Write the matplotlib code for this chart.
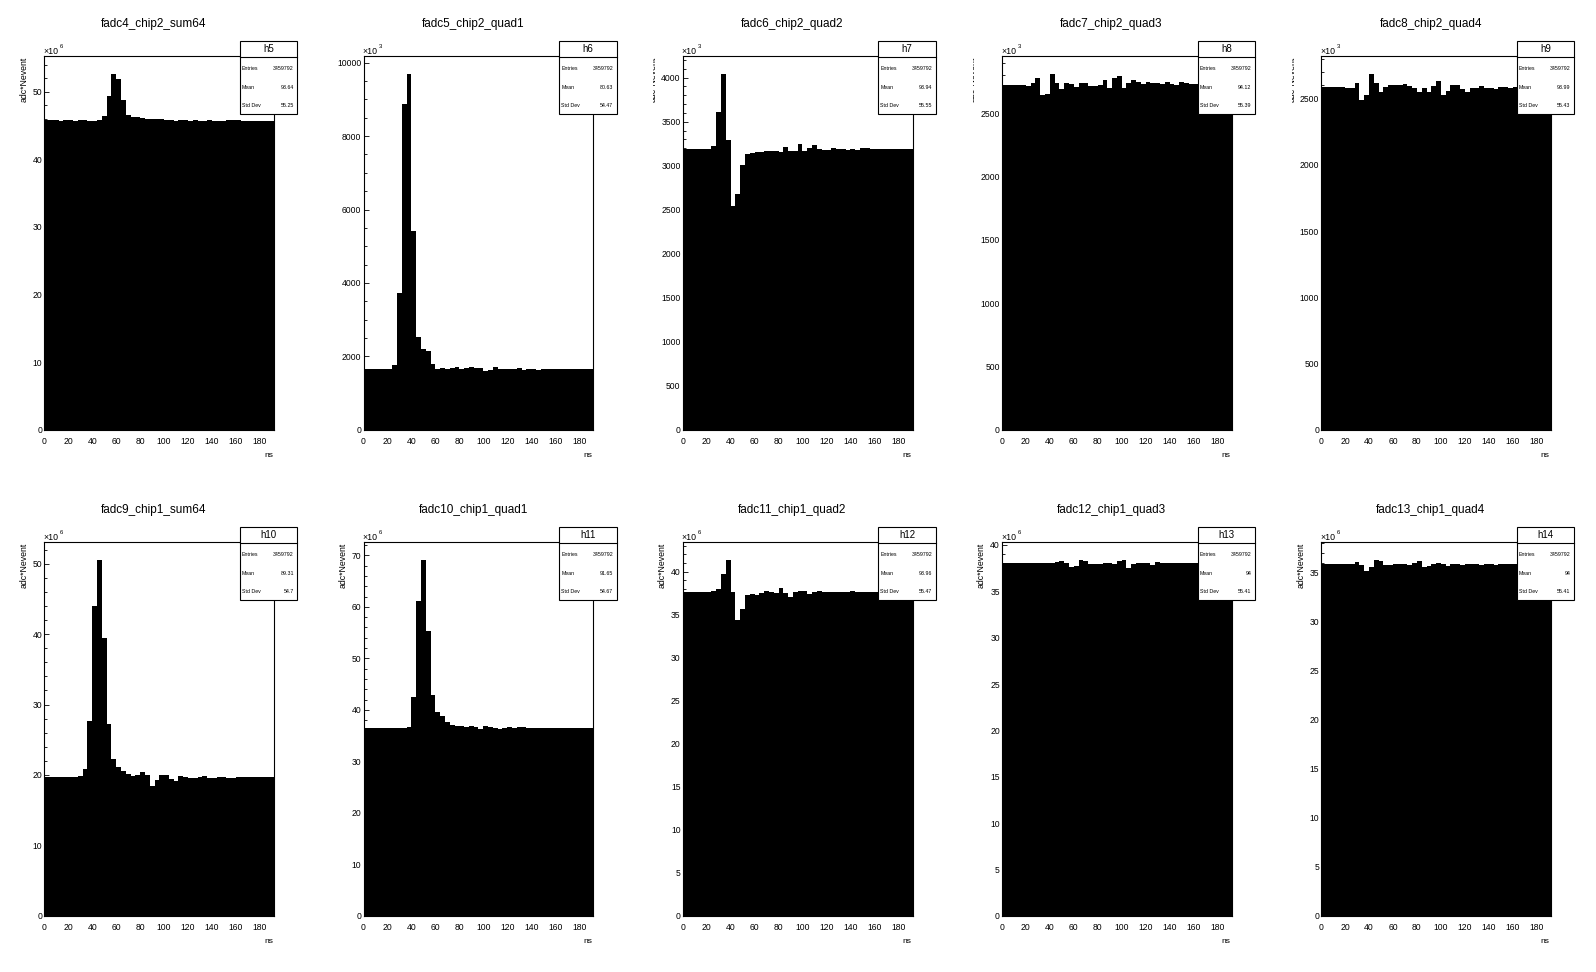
import matplotlib
matplotlib.use('Agg')
import matplotlib.pyplot as plt
from matplotlib.patches import Rectangle
from matplotlib.ticker import MultipleLocator, FuncFormatter
import numpy as np

plt.rcParams['font.family'] = ['Liberation Sans', 'DejaVu Sans']

W, H = 1596, 972

# 48 bins of 4 ns, 0-192 ns
bin_edges = np.arange(0, 193, 4)

titles = ['fadc4_chip2_sum64', 'fadc5_chip2_quad1', 'fadc6_chip2_quad2',
          'fadc7_chip2_quad3', 'fadc8_chip2_quad4', 'fadc9_chip1_sum64',
          'fadc10_chip1_quad1', 'fadc11_chip1_quad2', 'fadc12_chip1_quad3',
          'fadc13_chip1_quad4']
hist_names = ['h5', 'h6', 'h7', 'h8', 'h9', 'h10', 'h11', 'h12', 'h13', 'h14']
entries = ['3459792'] * 10
means = ['93.64', '80.63', '93.94', '94.12', '93.99', '89.31', '91.65', '93.96', '94', '94']
std_devs = ['55.25', '54.47', '55.55', '55.39', '55.43', '54.7', '54.67', '55.47', '55.41', '55.41']
exponents = ['6', '3', '3', '3', '3', '6', '6', '6', '6', '6']

# bin contents, in units of 10^exponent
h5 = [45.8, 45.8, 45.8, 45.67, 45.8, 45.8, 45.72, 45.8, 45.8, 45.72, 45.72, 45.8,
      46.4, 49.4, 52.6, 51.9, 48.8, 46.6, 46.2, 46.2, 46.1, 46.0, 45.9, 45.9,
      45.9, 45.8, 45.75, 45.7, 45.75, 45.75, 45.7, 45.75, 45.7, 45.7, 45.75, 45.7,
      45.7, 45.7, 45.75, 45.75, 45.75, 45.7, 45.7, 45.7, 45.7, 45.7, 45.7, 45.7]
h6 = [1645, 1645, 1645, 1645, 1645, 1645, 1755, 3727, 8873, 9690, 5409, 2518,
      2191, 2136, 1782, 1654, 1682, 1654, 1682, 1709, 1654, 1673, 1709, 1682,
      1673, 1600, 1627, 1709, 1654, 1654, 1654, 1654, 1673, 1627, 1654, 1654,
      1627, 1645, 1645, 1645, 1645, 1645, 1645, 1645, 1645, 1645, 1645, 1645]
h7 = [3195, 3188, 3188, 3188, 3188, 3188, 3226, 3609, 4041, 3287, 2540, 2676,
      3006, 3131, 3147, 3154, 3154, 3165, 3165, 3165, 3160, 3211, 3165, 3165,
      3245, 3165, 3203, 3234, 3188, 3177, 3177, 3200, 3188, 3188, 3180, 3188,
      3180, 3200, 3200, 3188, 3188, 3188, 3188, 3188, 3188, 3188, 3188, 3188]
h8 = [2724, 2724, 2724, 2724, 2724, 2716, 2737, 2777, 2645, 2650, 2811, 2742,
      2692, 2740, 2735, 2711, 2740, 2740, 2716, 2716, 2727, 2764, 2703, 2779,
      2795, 2700, 2742, 2764, 2748, 2732, 2748, 2740, 2740, 2735, 2748, 2735,
      2724, 2748, 2740, 2735, 2730, 2730, 2730, 2730, 2730, 2730, 2730, 2730]
h9 = [2583, 2583, 2583, 2583, 2583, 2576, 2576, 2614, 2488, 2523, 2684, 2616,
      2548, 2583, 2598, 2598, 2598, 2606, 2591, 2576, 2548, 2578, 2548, 2591,
      2631, 2526, 2556, 2598, 2598, 2568, 2548, 2576, 2576, 2591, 2576, 2576,
      2571, 2583, 2583, 2576, 2583, 2580, 2580, 2580, 2580, 2580, 2580, 2580]
h10 = [19.67, 19.67, 19.67, 19.67, 19.67, 19.67, 19.67, 19.81, 20.81, 27.63, 43.98, 50.52,
       39.43, 27.20, 22.23, 21.09, 20.52, 20.09, 19.86, 20.0, 20.47, 19.95, 18.39, 19.34,
       19.95, 19.95, 19.38, 19.19, 19.81, 19.67, 19.57, 19.57, 19.72, 19.86, 19.57, 19.57,
       19.67, 19.67, 19.57, 19.57, 19.67, 19.67, 19.67, 19.67, 19.67, 19.67, 19.67, 19.67]
h11 = [36.42, 36.42, 36.42, 36.42, 36.42, 36.42, 36.42, 36.42, 36.42, 36.75, 42.45, 61.24,
       69.09, 55.28, 42.84, 39.53, 38.76, 37.59, 37.01, 36.81, 36.81, 36.62, 36.81, 36.62,
       36.29, 36.81, 36.62, 36.42, 36.23, 36.42, 36.62, 36.42, 36.62, 36.62, 36.42, 36.42,
       36.42, 36.42, 36.42, 36.42, 36.42, 36.42, 36.42, 36.42, 36.42, 36.42, 36.42, 36.42]
h12 = [37.63, 37.63, 37.63, 37.63, 37.63, 37.63, 37.74, 37.97, 39.72, 41.35, 37.63, 34.37,
       35.65, 37.28, 37.39, 37.28, 37.51, 37.74, 37.63, 37.51, 38.09, 37.51, 37.04, 37.63,
       37.74, 37.74, 37.39, 37.63, 37.74, 37.63, 37.63, 37.63, 37.63, 37.63, 37.63, 37.74,
       37.63, 37.63, 37.63, 37.63, 37.63, 37.63, 37.63, 37.63, 37.63, 37.63, 37.63, 37.63]
h13 = [38.09, 38.09, 38.09, 38.09, 38.09, 38.09, 38.09, 38.09, 38.09, 38.09, 38.09, 38.19,
       38.3, 38.09, 37.65, 37.76, 38.37, 38.26, 37.98, 37.98, 37.98, 38.09, 38.09, 37.98,
       38.3, 38.37, 37.55, 37.98, 38.09, 38.09, 38.09, 37.87, 38.19, 38.09, 38.09, 38.09,
       38.09, 38.09, 38.09, 38.09, 38.09, 38.09, 38.09, 38.09, 38.09, 38.09, 38.09, 38.09]
h14 = [35.89, 35.89, 35.89, 35.89, 35.89, 35.89, 35.89, 36.09, 35.78, 35.21, 35.58, 36.29,
       36.19, 35.78, 35.78, 35.89, 35.89, 35.89, 35.78, 35.99, 36.19, 35.61, 35.72, 35.92,
       35.99, 35.89, 35.72, 35.89, 35.89, 35.78, 35.89, 35.89, 35.89, 35.78, 35.89, 35.89,
       35.78, 35.89, 35.89, 35.89, 35.89, 35.89, 35.89, 35.89, 35.89, 35.89, 35.89, 35.89]
hists = [h5, h6, h7, h8, h9, h10, h11, h12, h13, h14]

# axis styling per pad
major_step = [10, 2000, 500, 500, 500, 10, 10, 5, 5, 5]
minor_step = [2, 500, 100, 100, 100, 2, 2, 1, 1, 1]
ylabel_mode = ['full', 'hidden', 'cut', 'cut', 'cut', 'full', 'full', 'full', 'full', 'full']

fig = plt.figure(figsize=(W / 100, H / 100), dpi=100)
fig.patch.set_facecolor('white')

# overlay in pixel coordinates for titles, stat boxes etc.
ov = fig.add_axes([0, 0, 1, 1], zorder=10)
ov.set_xlim(0, W)
ov.set_ylim(H, 0)
ov.axis('off')
ov.patch.set_alpha(0)

pad_w, pad_h = W / 5, H / 2

for i in range(10):
    r, c = divmod(i, 5)
    px, py = c * pad_w, r * pad_h
    fl, ft, fw, fh = px + 44.3, py + 56.3, 230, 373.5

    ax = fig.add_axes([fl / W, 1 - (ft + fh) / H, fw / W, fh / H])
    vals = hists[i]
    ax.stairs(vals, bin_edges, fill=True, color='black', baseline=0, lw=0)
    ax.set_xlim(0, 192)
    ax.set_ylim(0, max(vals) * 1.05)

    ax.xaxis.set_major_locator(MultipleLocator(20))
    ax.xaxis.set_minor_locator(MultipleLocator(4))
    ax.yaxis.set_major_locator(MultipleLocator(major_step[i]))
    ax.yaxis.set_minor_locator(MultipleLocator(minor_step[i]))
    fmt = FuncFormatter(lambda v, p: '%g' % v)
    ax.xaxis.set_major_formatter(fmt)
    ax.yaxis.set_major_formatter(fmt)
    ax.tick_params(which='both', direction='in', top=False, right=False, width=0.6, labelsize=6.2)
    ax.tick_params(which='major', length=3.8)
    ax.tick_params(which='minor', length=1.9)
    ax.tick_params(axis='x', pad=5)
    ax.tick_params(axis='y', pad=1.5)
    for s in ax.spines.values():
        s.set_linewidth(0.8)

    # title
    ov.text(px + 154, py + 24.3, titles[i], ha='center', va='center', fontsize=8.5)

    # x axis title
    ov.text(fl + fw - 1.5, py + 455.5, 'ns', ha='right', va='center', fontsize=6)

    # exponent
    ov.text(fl - 1, py + 51, '\u00d710', ha='left', va='center', fontsize=6.3)
    ov.text(fl + 15.5, py + 46.5, exponents[i], ha='left', va='center', fontsize=4.3)

    # y axis title (pushed partly / fully out of the pad when tick labels are wide)
    if ylabel_mode[i] == 'full':
        ov.text(px + 24, ft, 'adc*Nevent', rotation=90, ha='center', va='top', fontsize=6.3)
    else:
        xc = px + 15 if ylabel_mode[i] == 'cut' else px + 2
        t = ov.text(xc, ft, 'adc*Nevent', rotation=90, ha='center', va='top', fontsize=6.3,
                    clip_on=True)
        clip = Rectangle((px + 15, py), pad_w - 15, pad_h, transform=ov.transData)
        t.set_clip_path(clip)

    # stat box
    bx, by, bw, bh = px + 240, py + 40.7, 57.3, 73.3
    ov.add_patch(Rectangle((bx, by), bw, bh, facecolor='white', edgecolor='black', lw=0.8))
    ov.plot([bx, bx + bw], [by + 16.6, by + 16.6], color='black', lw=0.8)
    ov.text(bx + bw / 2, by + 8.6, hist_names[i], ha='center', va='center', fontsize=7)
    rows = [('Entries', entries[i]), ('Mean', means[i]), ('Std Dev', std_devs[i])]
    for k, (lab, v) in enumerate(rows):
        yy = by + 28 + k * 18.5
        ov.text(bx + 2, yy, lab, ha='left', va='center', fontsize=3.8)
        ov.text(bx + bw - 3.5, yy, v, ha='right', va='center', fontsize=3.8)

fig.savefig('out.png', dpi=100, facecolor='white')
